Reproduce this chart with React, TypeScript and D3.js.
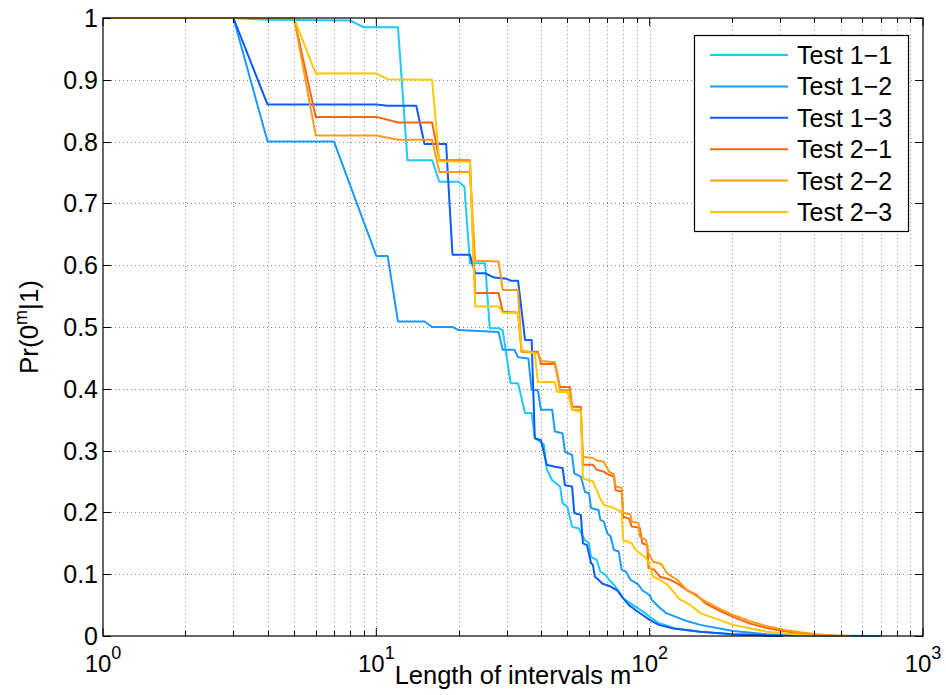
import React from "react";
import * as d3 from "d3";

const seriesNames = ["Test 1\u22121", "Test 1\u22122", "Test 1\u22123", "Test 2\u22121", "Test 2\u22122", "Test 2\u22123"];
const seriesColors = ["#1ec8ff", "#1a9aff", "#0a5cff", "#ff6414", "#ff9a14", "#ffc800"];

const test11: [number, number][] = [
  [1, 1], [3, 1], [4, 0.997], [8, 0.996], [9, 0.985], [12, 0.985], [13, 0.77], [16, 0.77], [17, 0.735], [20, 0.735],
  [21, 0.727], [22, 0.603], [25, 0.603], [26, 0.498], [28, 0.498], [29, 0.495], [31, 0.409], [33, 0.409], [35, 0.361],
  [37, 0.361], [38, 0.32], [41, 0.31], [42, 0.27], [44, 0.252], [47, 0.242], [48, 0.215], [50, 0.209], [52, 0.177],
  [55, 0.174], [58, 0.155], [60, 0.15], [61, 0.128], [64, 0.123], [66, 0.104], [69, 0.099], [71, 0.091], [74, 0.083],
  [78, 0.069], [80, 0.061], [87, 0.05], [95, 0.039], [100, 0.031], [108, 0.021], [125, 0.012], [153, 0.007],
  [202, 0.003], [300, 0],
];

const test12: [number, number][] = [
  [1, 1], [3, 1], [4, 0.8], [7, 0.8], [10, 0.615], [11, 0.615], [12, 0.509], [15, 0.509], [16, 0.5], [19, 0.5],
  [20, 0.495], [28, 0.492], [29, 0.463], [32, 0.463], [33, 0.451], [36, 0.449], [37, 0.398], [39, 0.398], [40, 0.366],
  [44, 0.366], [45, 0.331], [48, 0.328], [49, 0.298], [52, 0.293], [53, 0.263], [56, 0.258], [58, 0.233], [60, 0.231],
  [61, 0.207], [65, 0.204], [66, 0.188], [68, 0.185], [70, 0.166], [72, 0.161], [74, 0.139], [77, 0.137], [79, 0.107],
  [82, 0.104], [85, 0.091], [91, 0.083], [94, 0.074], [100, 0.066], [102, 0.058], [108, 0.047], [115, 0.037],
  [133, 0.026], [153, 0.018], [202, 0.008], [268, 0.003], [355, 0.001], [700, 0],
];

const test13: [number, number][] = [
  [1, 1], [3, 1], [4, 0.86], [10, 0.86], [11, 0.858], [14, 0.858], [15, 0.796], [18, 0.796], [19, 0.617], [22, 0.617],
  [23, 0.587], [25, 0.587], [27, 0.58], [30, 0.578], [31, 0.575], [33, 0.575], [35, 0.479], [37, 0.479], [38, 0.32],
  [40, 0.317], [42, 0.277], [45, 0.274], [48, 0.272], [49, 0.244], [52, 0.242], [53, 0.199], [56, 0.196], [57, 0.15],
  [59, 0.147], [61, 0.118], [62, 0.115], [63, 0.096], [65, 0.091], [67, 0.085], [72, 0.08], [76, 0.074], [79, 0.064],
  [81, 0.058], [84, 0.05], [90, 0.04], [100, 0.026], [108, 0.018], [122, 0.012], [153, 0.007], [202, 0.003],
  [268, 0.001], [307, 0],
];

const test21: [number, number][] = [
  [1, 1], [5, 1], [6, 0.84], [10, 0.84], [12, 0.831], [16, 0.831], [17, 0.77], [22, 0.77], [23, 0.555], [28, 0.555],
  [29, 0.525], [33, 0.523], [34, 0.46], [39, 0.46], [40, 0.44], [45, 0.44], [47, 0.403], [51, 0.403], [52, 0.371],
  [56, 0.371], [57, 0.277], [62, 0.277], [64, 0.269], [68, 0.266], [70, 0.262], [74, 0.258], [75, 0.236], [79, 0.234],
  [80, 0.193], [84, 0.19], [86, 0.177], [92, 0.175], [94, 0.15], [98, 0.147], [99, 0.11], [104, 0.107], [109, 0.096],
  [119, 0.091], [126, 0.085], [137, 0.074], [149, 0.066], [160, 0.053], [182, 0.04], [202, 0.031], [233, 0.02],
  [268, 0.013], [308, 0.008], [355, 0.004], [407, 0.002], [500, 0],
];

const test22: [number, number][] = [
  [1, 1], [5, 1], [6, 0.81], [10, 0.81], [12, 0.803], [16, 0.803], [17, 0.751], [22, 0.751], [23, 0.607], [28, 0.606],
  [29, 0.56], [33, 0.56], [34, 0.46], [39, 0.458], [40, 0.445], [45, 0.443], [47, 0.398], [51, 0.398], [52, 0.366],
  [56, 0.366], [57, 0.29], [62, 0.288], [64, 0.284], [68, 0.282], [71, 0.266], [74, 0.262], [75, 0.242], [79, 0.24],
  [80, 0.199], [85, 0.197], [86, 0.185], [91, 0.183], [92, 0.161], [97, 0.155], [99, 0.134], [103, 0.12], [110, 0.117],
  [116, 0.101], [126, 0.091], [137, 0.074], [149, 0.064], [160, 0.056], [182, 0.043], [202, 0.034], [233, 0.024],
  [268, 0.016], [308, 0.01], [355, 0.006], [410, 0.003], [470, 0.001], [540, 0],
];

const test23: [number, number][] = [
  [1, 1], [5, 1], [6, 0.91], [10, 0.91], [11, 0.901], [16, 0.9], [17, 0.768], [22, 0.768], [23, 0.533], [28, 0.533],
  [29, 0.523], [33, 0.523], [34, 0.463], [38, 0.457], [39, 0.411], [45, 0.411], [46, 0.395], [50, 0.395], [52, 0.366],
  [56, 0.363], [57, 0.255], [62, 0.25], [64, 0.236], [66, 0.222], [68, 0.212], [74, 0.207], [79, 0.201], [80, 0.155],
  [86, 0.15], [88, 0.142], [92, 0.134], [96, 0.128], [99, 0.12], [103, 0.096], [109, 0.091], [116, 0.083], [122, 0.072],
  [128, 0.06], [141, 0.05], [153, 0.037], [202, 0.018], [268, 0.007], [355, 0.002], [410, 0],
];

const allSeries = [test11, test12, test13, test21, test22, test23];

const xMajorTicks = [1, 10, 100, 1000];
const xTickExponents = ["0", "1", "2", "3"];
const yTicks = [0, 0.1, 0.2, 0.3, 0.4, 0.5, 0.6, 0.7, 0.8, 0.9, 1];
const yTickLabels = ["0", "0.1", "0.2", "0.3", "0.4", "0.5", "0.6", "0.7", "0.8", "0.9", "1"];

const W = 946;
const H = 695;
const L = 103, R = 923, T = 18, B = 636;
const FONT = "'Liberation Sans', Arial, Helvetica, sans-serif";

export default function App() {
  const x = d3.scaleLog().domain([1, 1000]).range([L, R]);
  const y = d3.scaleLinear().domain([0, 1]).range([B, T]);
  const line = d3
    .line<[number, number]>()
    .x((d) => x(d[0]))
    .y((d) => y(d[1]));

  const minorTicks: number[] = [];
  for (const dec of [1, 10, 100]) {
    for (let k = 2; k <= 9; k++) minorTicks.push(dec * k);
  }

  const legX = 694.5, legY = 35.5, legW = 214, legH = 196;
  const rowY = (i: number) => 55 + i * 31.4;

  return (
    <svg width={W} height={H} style={{ position: "absolute", left: 0, top: 0, background: "#fff" }} fontFamily={FONT}>
      <rect x={0} y={0} width={W} height={H} fill="#fff" />
      {/* grid */}
      <g stroke="#8a8a8a" strokeWidth={1} strokeDasharray="1,3">
        {[...minorTicks, 10, 100].map((t) => (
          <line key={"gx" + t} x1={Math.round(x(t)) + 0.5} x2={Math.round(x(t)) + 0.5} y1={T} y2={B} />
        ))}
        {yTicks.slice(1, -1).map((t) => (
          <line key={"gy" + t} x1={L} x2={R} y1={Math.round(y(t)) + 0.5} y2={Math.round(y(t)) + 0.5} />
        ))}
      </g>
      {/* series */}
      <g fill="none" strokeWidth={2} strokeLinejoin="round">
        {allSeries.map((s, i) => (
          <path key={i} d={line(s) || ""} stroke={seriesColors[i]} />
        ))}
      </g>
      {/* frame */}
      <rect x={L} y={T} width={R - L} height={B - T} fill="none" stroke="#000" strokeWidth={1.2} />
      {/* ticks */}
      <g stroke="#000" strokeWidth={1}>
        {xMajorTicks.map((t) => (
          <g key={"xt" + t}>
            <line x1={x(t)} x2={x(t)} y1={B} y2={B - 8} />
            <line x1={x(t)} x2={x(t)} y1={T} y2={T + 8} />
          </g>
        ))}
        {minorTicks.map((t) => (
          <g key={"xm" + t}>
            <line x1={Math.round(x(t)) + 0.5} x2={Math.round(x(t)) + 0.5} y1={B} y2={B - 5} />
            <line x1={Math.round(x(t)) + 0.5} x2={Math.round(x(t)) + 0.5} y1={T} y2={T + 5} />
          </g>
        ))}
        {yTicks.map((t) => (
          <g key={"yt" + t}>
            <line x1={L} x2={L + 8} y1={Math.round(y(t)) + 0.5} y2={Math.round(y(t)) + 0.5} />
            <line x1={R} x2={R - 8} y1={Math.round(y(t)) + 0.5} y2={Math.round(y(t)) + 0.5} />
          </g>
        ))}
      </g>
      {/* y tick labels */}
      <g fontSize={25} fill="#000" textAnchor="end">
        {yTicks.map((t, i) => (
          <text key={"yl" + t} x={98} y={y(t) + 9}>
            {yTickLabels[i]}
          </text>
        ))}
      </g>
      {/* x tick labels */}
      <g fontSize={24} fill="#000" textAnchor="middle">
        {xMajorTicks.map((t, i) => (
          <text key={"xl" + t} x={x(t)} y={672}>
            10
            <tspan fontSize={18} dy={-13}>
              {xTickExponents[i]}
            </tspan>
          </text>
        ))}
      </g>
      {/* axis labels */}
      <text x={(L + R) / 2} y={684} fontSize={25.5} textAnchor="middle" fill="#000">
        Length of intervals m
      </text>
      <text transform={`translate(38, ${(T + B) / 2}) rotate(-90)`} fontSize={26} textAnchor="middle" fill="#000">
        Pr(0<tspan fontSize={18} dy={-11}>m</tspan>
        <tspan dy={11}>|1)</tspan>
      </text>
      {/* legend */}
      <rect x={legX} y={legY} width={legW} height={legH} fill="#fff" stroke="#000" strokeWidth={1.2} />
      {seriesNames.map((n, i) => (
        <g key={"lg" + i}>
          <line x1={710} x2={788} y1={rowY(i)} y2={rowY(i)} stroke={seriesColors[i]} strokeWidth={2} />
          <text x={797} y={rowY(i) + 9} fontSize={25} fill="#000">
            {n}
          </text>
        </g>
      ))}
    </svg>
  );
}
